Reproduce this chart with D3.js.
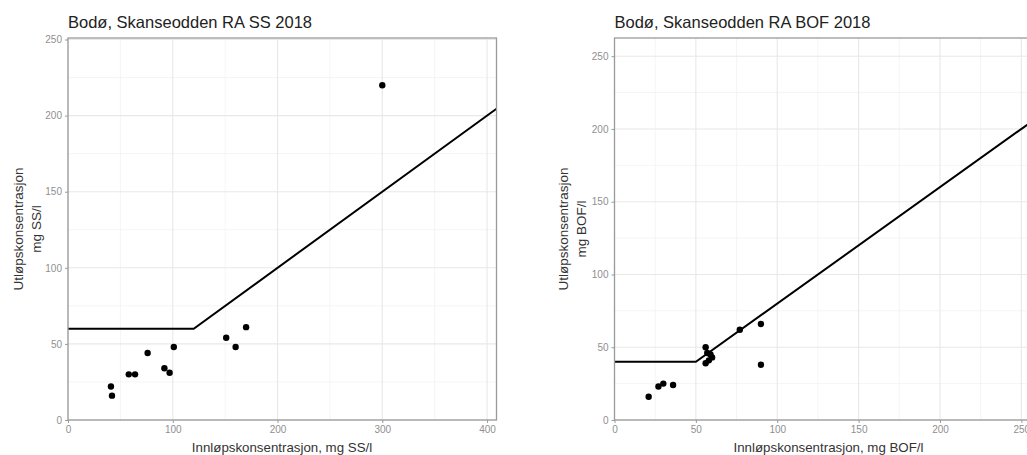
<!DOCTYPE html>
<html>
<head>
<meta charset="utf-8">
<script src="https://cdn.jsdelivr.net/npm/d3@7"></script>
<style>
  body { margin: 0; background: #fff; }
  svg { font-family: "Liberation Sans", Arial, sans-serif; }
</style>
</head>
<body>
<svg id="chart" width="1027" height="455"></svg>
<script>
// SS panel data
var ssInlet  = [41, 42, 58, 64, 76, 92, 97, 101, 151, 160, 170, 300];
var ssOutlet = [22, 16, 30, 30, 44, 34, 31, 48, 54, 48, 61, 220];
var ssLineX = [0, 120, 409];
var ssLineY = [60, 60, 204.5];

// BOF panel data
var bofInlet  = [21, 27, 30, 36, 56, 57, 59, 60, 56, 58, 77, 90, 90];
var bofOutlet = [16, 23, 25, 24, 50, 46, 45, 43, 39, 41, 62, 66, 38];
var bofLineX = [0, 50, 263];
var bofLineY = [40, 40, 210.4];

var xTicksSS = [0, 100, 200, 300, 400];
var xTicksBOF = [0, 50, 100, 150, 200, 250];
var yTicks = [0, 50, 100, 150, 200, 250];

var svg = d3.select("#chart");

var buildPanel = function(opts) {

  var x = d3.scaleLinear().domain(opts.xDomain).range([opts.left, opts.right]);
  var y = d3.scaleLinear().domain(opts.yDomain).range([opts.bottom, opts.top]);

  var g = svg.append("g");

  // minor + major grid
  var step = opts.xTicks[1] - opts.xTicks[0];
  var xMinor = opts.xTicks.map(t => t + step / 2);
  var yMinor = yTicks.map(t => t + 25);

  g.selectAll(".xminor").data(xMinor.filter(d => d < opts.xDomain[1])).enter().append("line")
      .attr("x1", x).attr("x2", x).attr("y1", opts.top).attr("y2", opts.bottom)
      .attr("stroke", "#f2f2f2").attr("stroke-width", 0.8);
  g.selectAll(".yminor").data(yMinor.filter(d => d < opts.yDomain[1])).enter().append("line")
      .attr("y1", y).attr("y2", y).attr("x1", opts.left).attr("x2", opts.right)
      .attr("stroke", "#f2f2f2").attr("stroke-width", 0.8);
  g.selectAll(".xmajor").data(opts.xTicks).enter().append("line")
      .attr("x1", x).attr("x2", x).attr("y1", opts.top).attr("y2", opts.bottom)
      .attr("stroke", "#e8e8e8").attr("stroke-width", 1.1);
  g.selectAll(".ymajor").data(yTicks).enter().append("line")
      .attr("y1", y).attr("y2", y).attr("x1", opts.left).attr("x2", opts.right)
      .attr("stroke", "#e8e8e8").attr("stroke-width", 1.1);

  // requirement line
  var pts = opts.lineX.map((d, i) => [d, opts.lineY[i]]);
  g.append("path")
      .datum(pts)
      .attr("fill", "none")
      .attr("stroke", "#000")
      .attr("stroke-width", 2)
      .attr("d", d3.line().x(d => x(d[0])).y(d => y(d[1])));

  // points
  g.selectAll("circle").data(opts.inlet).enter().append("circle")
      .attr("cx", d => x(d))
      .attr("cy", (d, i) => y(opts.outlet[i]))
      .attr("r", 3.2)
      .attr("fill", "#000");

  // panel border
  g.append("rect")
      .attr("x", opts.left).attr("y", opts.top)
      .attr("width", opts.right - opts.left).attr("height", opts.bottom - opts.top)
      .attr("fill", "none").attr("stroke", "#9a9a9a").attr("stroke-width", 1.3);

  // axes
  var xAxis = d3.axisBottom(x).tickValues(opts.xTicks).tickSize(3).tickPadding(3);
  var yAxis = d3.axisLeft(y).tickValues(yTicks).tickSize(3).tickPadding(3);

  var gx = g.append("g").attr("transform", "translate(0," + opts.bottom + ")").call(xAxis);
  var gy = g.append("g").attr("transform", "translate(" + opts.left + ",0)").call(yAxis);
  [gx, gy].forEach(function(a) {
    a.select(".domain").remove();
    a.selectAll(".tick line").attr("stroke", "#9a9a9a");
    a.selectAll(".tick text").attr("fill", "#8f8f8f").style("font-size", "10px")
        .style("font-family", "'Liberation Sans', Arial, sans-serif");
  });

  // titles
  g.append("text")
      .attr("x", opts.left).attr("y", 28)
      .attr("fill", "#222").style("font-size", "16.5px")
      .text(opts.title);

  g.append("text")
      .attr("x", opts.left + 214).attr("y", 452)
      .attr("text-anchor", "middle")
      .attr("fill", "#333").style("font-size", "13.3px")
      .text(opts.xTitle);

  var yt = g.append("text")
      .attr("transform", "translate(" + opts.yTitleX + "," + (opts.top + opts.bottom) / 2 + ") rotate(-90)")
      .attr("text-anchor", "middle")
      .attr("fill", "#333").style("font-size", "13.5px");
  yt.append("tspan").attr("x", 0).attr("dy", 0).text("Utløpskonsentrasjon");
  yt.append("tspan").attr("x", 0).attr("dy", "1.3em").text(opts.yUnit);
};

buildPanel({
  left: 68, right: 496.5, top: 38, bottom: 420,
  xDomain: [0, 409], yDomain: [0, 251],
  xTicks: xTicksSS,
  lineX: ssLineX, lineY: ssLineY,
  inlet: ssInlet, outlet: ssOutlet,
  title: "Bodø, Skanseodden RA SS 2018",
  xTitle: "Innløpskonsentrasjon, mg SS/l",
  yTitleX: 23, yUnit: "mg SS/l"
});

buildPanel({
  left: 614.5, right: 1042.5, top: 38, bottom: 420,
  xDomain: [0, 263], yDomain: [0, 262.5],
  xTicks: xTicksBOF,
  lineX: bofLineX, lineY: bofLineY,
  inlet: bofInlet, outlet: bofOutlet,
  title: "Bodø, Skanseodden RA BOF 2018",
  xTitle: "Innløpskonsentrasjon, mg BOF/l",
  yTitleX: 568, yUnit: "mg BOF/l"
});
</script>
</body>
</html>
